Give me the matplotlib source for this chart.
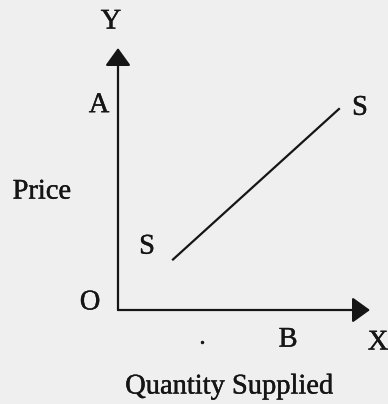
import matplotlib
matplotlib.use("Agg")
import matplotlib.pyplot as plt
import matplotlib.patheffects as pe

# Supply curve S-S (quantity, price)
supply_q = [2.15, 8.8]
supply_p = [1.9, 7.7]

# Reference points on the axes
point_a_price = 7.8
point_b_qty = 6.75

axis_max = 10.0
axis_names = ["X", "Y"]
x_title = "Quantity Supplied"
y_title = "Price"
curve_label = "S"
origin_label = "O"

bg = "#efefef"
ink = "#151515"
serif = ["Liberation Serif", "DejaVu Serif"]

fig = plt.figure(figsize=(3.88, 4.04), dpi=100, facecolor=bg)
ax = fig.add_axes([118 / 388, (404 - 310) / 404, 252 / 388, 262 / 404])
ax.set_facecolor(bg)
ax.set_xlim(0, axis_max)
ax.set_ylim(0, axis_max)
ax.axis("off")

arrow = dict(arrowstyle="-|>,head_length=1.08,head_width=0.78",
             color=ink, lw=1.6, mutation_scale=10, shrinkA=0, shrinkB=0)
ax.annotate("", xy=(0, axis_max), xytext=(0, 0), arrowprops=arrow,
            annotation_clip=False)
ax.annotate("", xy=(axis_max, 0), xytext=(0, 0), arrowprops=arrow,
            annotation_clip=False)

ax.plot(supply_q, supply_p, color=ink, lw=1.6, solid_capstyle="butt")

fs = 20.5
kw = dict(family=serif, fontsize=fs, color=ink, ha="center", va="center",
          clip_on=False,
          path_effects=[pe.withStroke(linewidth=0.3, foreground=ink)])
ax.text(-0.28, 10.99, axis_names[1], **kw)
ax.text(10.32, -1.26, axis_names[0], **kw)
ax.text(-0.75, point_a_price, "A", **kw)
ax.text(point_b_qty, -1.15, "B", **kw)
ax.text(-1.11, 0.27, origin_label, **kw)
ax.text(supply_q[1] + 0.8, supply_p[1], curve_label, **kw)
ax.text(supply_q[0] - 1.0, supply_p[0] + 0.5, curve_label, **kw)
ax.text(-3.02, 4.5, y_title, **kw)
ax.text(4.4, -2.94, x_title, **kw)
ax.plot([3.33], [-1.22], marker="o", ms=1.5, color=ink, clip_on=False)

fig.savefig("out.png", dpi=100, facecolor=bg)
